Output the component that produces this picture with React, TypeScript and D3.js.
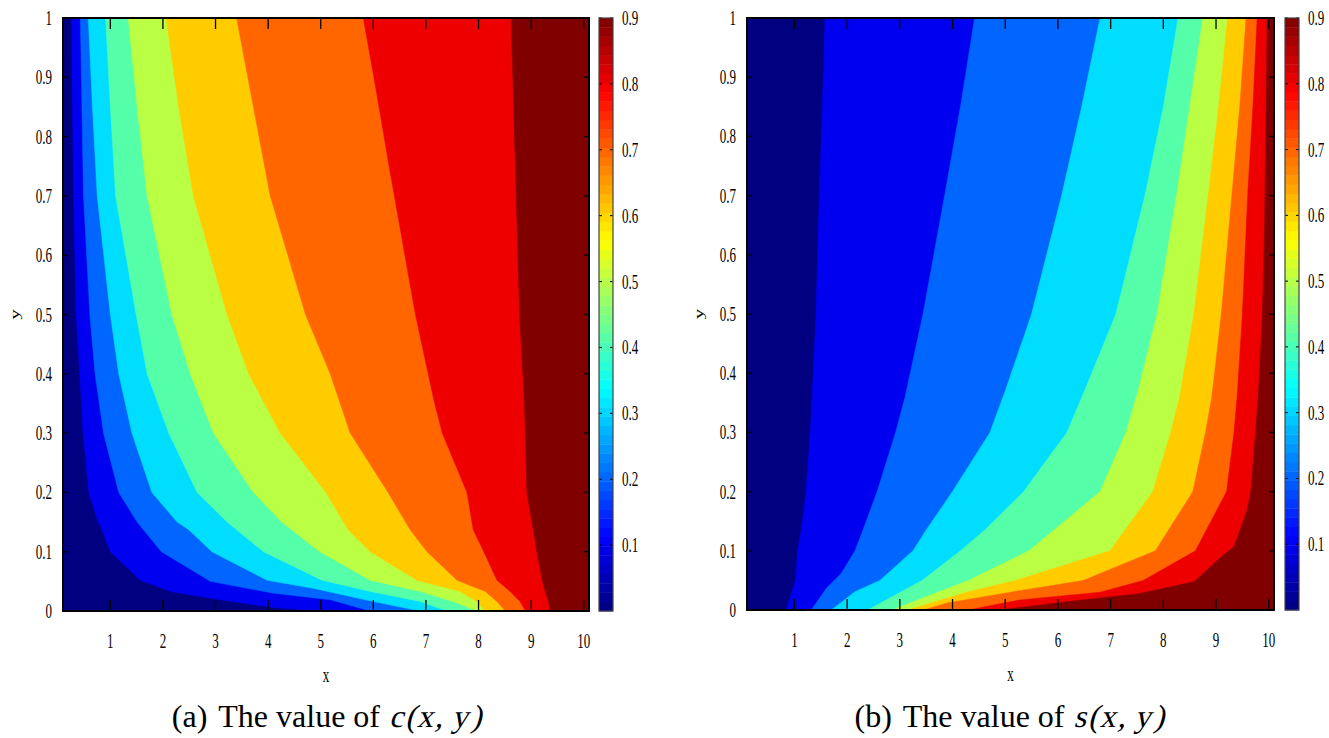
import React from "react";
import * as d3 from "d3";

// ---------- data ----------
// Contour boundaries of c(x,y): [x, y] points, top (y=1) to bottom (y=0)
const cLevel1 = [[0.26,1],[0.28,0.85],[0.30,0.7],[0.35,0.5],[0.42,0.4],[0.48,0.3],[0.59,0.2],[0.77,0.15],[0.84,0.137],[1.0,0.1],[1.57,0.052],[2.14,0.033],[3.09,0.019],[4.1,0.006],[5.0,0]];
const cLevel2 = [[0.43,1],[0.46,0.85],[0.49,0.7],[0.61,0.5],[0.71,0.4],[0.87,0.3],[1.16,0.2],[1.51,0.15],[1.97,0.1],[2.9,0.05],[4.1,0.03],[5.18,0.019],[5.94,0]];
const cLevel3 = [[0.58,1],[0.66,0.85],[0.75,0.7],[1.0,0.5],[1.16,0.4],[1.41,0.3],[1.79,0.2],[2.27,0.15],[2.49,0.137],[2.93,0.1],[3.98,0.052],[4.87,0.038],[6.0,0.016],[6.89,0]];
const cLevel4 = [[0.91,1],[1.0,0.85],[1.1,0.7],[1.49,0.5],[1.7,0.4],[2.11,0.3],[2.65,0.2],[3.22,0.15],[3.91,0.1],[5.02,0.052],[5.94,0.033],[6.89,0.016],[7.4,0]];
const cLevel5 = [[1.34,1],[1.51,0.85],[1.7,0.7],[2.17,0.5],[2.52,0.4],[2.96,0.3],[3.72,0.2],[4.26,0.15],[4.98,0.1],[5.94,0.052],[6.89,0.033],[7.52,0.016],[7.97,0]];
const cLevel6 = [[2.06,1],[2.3,0.85],[2.58,0.7],[3.22,0.5],[3.63,0.4],[4.23,0.3],[5.1,0.2],[5.52,0.137],[5.94,0.1],[6.83,0.052],[7.65,0.033],[7.97,0.016],[8.13,0]];
const cLevel7 = [[3.4,1],[3.72,0.85],[4.04,0.7],[4.71,0.5],[5.18,0.4],[5.56,0.3],[6.28,0.2],[6.7,0.137],[7.02,0.1],[7.59,0.052],[8.13,0.033],[8.35,0.016],[8.51,0]];
const cLevel8 = [[5.81,1],[6.05,0.88],[6.3,0.75],[6.8,0.5],[7.15,0.356],[7.31,0.3],[7.78,0.2],[7.9,0.137],[8.1,0.1],[8.35,0.052],[8.6,0.033],[8.79,0.016],[8.89,0]];
const cLevel9 = [[8.62,1],[8.7,0.75],[8.78,0.5],[8.87,0.356],[8.89,0.3],[8.92,0.2],[9.04,0.137],[9.11,0.1],[9.21,0.052],[9.27,0.033],[9.33,0.016],[9.36,0]];

// Contour boundaries of s(x,y)
const sLevel1 = [[1.58,1],[1.53,0.85],[1.47,0.7],[1.41,0.5],[1.33,0.35],[1.3,0.3],[1.22,0.2],[1.13,0.135],[1.06,0.1],[1.02,0.05],[0.84,0]];
const sLevel2 = [[4.42,1],[4.15,0.85],[3.85,0.7],[3.44,0.5],[3.1,0.36],[2.92,0.3],[2.57,0.2],[2.3,0.135],[2.15,0.1],[1.89,0.062],[1.61,0.037],[1.32,0]];
const sLevel3 = [[6.8,1],[6.45,0.85],[6.07,0.7],[5.5,0.5],[5.0,0.37],[4.71,0.3],[4.0,0.2],[3.5,0.135],[3.25,0.1],[2.62,0.05],[2.15,0.031],[1.7,0]];
const sLevel4 = [[8.28,1],[8.0,0.85],[7.65,0.7],[7.1,0.5],[6.55,0.38],[6.17,0.3],[5.35,0.2],[4.61,0.135],[4.15,0.1],[3.42,0.05],[2.39,0]];
const sLevel5 = [[8.75,1],[8.5,0.85],[8.25,0.7],[7.88,0.5],[7.52,0.37],[7.29,0.3],[6.8,0.2],[5.45,0.1],[4.3,0.05],[2.85,0]];
const sLevel6 = [[9.22,1],[9.05,0.85],[8.85,0.7],[8.58,0.5],[8.31,0.36],[8.14,0.3],[7.8,0.2],[6.99,0.1],[5.2,0.05],[4.26,0.03],[3.15,0]];
const sLevel7 = [[9.57,1],[9.45,0.85],[9.3,0.7],[9.1,0.5],[8.92,0.36],[8.8,0.3],[8.56,0.2],[7.85,0.1],[6.48,0.05],[5.3,0.033],[3.9,0.012],[3.45,0]];
const sLevel8 = [[9.78,1],[9.7,0.85],[9.6,0.7],[9.5,0.5],[9.4,0.36],[9.34,0.3],[9.2,0.2],[8.61,0.1],[7.62,0.05],[6.8,0.03],[5.28,0.017],[4.3,0]];
const sLevel9 = [[9.97,1],[9.95,0.85],[9.92,0.64],[9.88,0.5],[9.8,0.36],[9.75,0.3],[9.66,0.2],[9.59,0.169],[9.34,0.107],[9.1,0.09],[8.59,0.048],[7.56,0.028],[6.17,0.014],[4.9,0]];

const cLevels = [cLevel1, cLevel2, cLevel3, cLevel4, cLevel5, cLevel6, cLevel7, cLevel8, cLevel9];
const sLevels = [sLevel1, sLevel2, sLevel3, sLevel4, sLevel5, sLevel6, sLevel7, sLevel8, sLevel9];

const xTicks = [1, 2, 3, 4, 5, 6, 7, 8, 9, 10];
const yTicks = [0, 0.1, 0.2, 0.3, 0.4, 0.5, 0.6, 0.7, 0.8, 0.9, 1];
const yTickLabels = ["0", "0.1", "0.2", "0.3", "0.4", "0.5", "0.6", "0.7", "0.8", "0.9", "1"];
const cbTicks = [0.1, 0.2, 0.3, 0.4, 0.5, 0.6, 0.7, 0.8, 0.9];
const xDomain = [0.1, 10.1];
const yDomain = [0, 1];
const cbDomain = [0, 0.9];

// ---------- styles ----------
const bandColors = ["#000080", "#0000f0", "#0066ff", "#00ddff", "#55ffaa", "#bbff44", "#ffcc00", "#ff6600", "#ee0000", "#800000"];
const FONT = "'Liberation Serif', 'Times New Roman', serif";
const SQ = 0.62;

function jet(t: number) {
  const c = (v: number) => Math.max(0, Math.min(1, v));
  const r = c(1.5 - Math.abs(4 * t - 3));
  const g = c(1.5 - Math.abs(4 * t - 2));
  const b = c(1.5 - Math.abs(4 * t - 1));
  return d3.rgb(r * 255, g * 255, b * 255).formatHex();
}

type PanelProps = {
  left: number; right: number; top: number; bottom: number; cbX: number;
  levels: number[][][]; id: string; letter: string; fn: string;
};

function Label({ x, y, anchor, children }: any) {
  return (
    <text transform={`translate(${x},${y}) scale(${SQ},1)`} textAnchor={anchor} fontFamily={FONT} fontSize={21} fill="#000">
      {children}
    </text>
  );
}

function Panel({ left, right, top, bottom, cbX, levels, id, letter, fn }: PanelProps) {
  const x = d3.scaleLinear().domain(xDomain).range([left, right]);
  const y = d3.scaleLinear().domain(yDomain).range([bottom, top]);
  const line = d3.line<number[]>().x((d) => x(d[0])).y((d) => y(d[1]));
  const cbW = 14;
  const cb = d3.scaleLinear().domain(cbDomain).range([bottom, top]);
  const nSteps = 64;
  const steps = d3.range(nSteps);
  const stepH = (bottom - top) / nSteps;
  const cx = (left + right) / 2;
  const xEnd = x(xDomain[1]) + 5;
  const split = cx + 58;
  return (
    <g>
      <defs>
        <clipPath id={`clip-${id}`}>
          <rect x={left} y={top} width={right - left} height={bottom - top} />
        </clipPath>
      </defs>
      <g clipPath={`url(#clip-${id})`}>
        <rect x={left} y={top} width={right - left} height={bottom - top} fill={bandColors[0]} />
        {levels.map((pts, i) => {
          const d = (line(pts as any) || "") + `L${x(pts[pts.length - 1][0])},${y(0) + 5}L${xEnd},${y(0) + 5}L${xEnd},${y(1) - 5}L${x(pts[0][0])},${y(1) - 5}Z`;
          return <path key={i} d={d} fill={bandColors[i + 1]} stroke={bandColors[i + 1]} strokeWidth={0.5} />;
        })}
      </g>
      {/* ticks */}
      {xTicks.map((t) => (
        <g key={`xt${t}`} stroke="#000" strokeWidth={1.3}>
          <line x1={x(t)} x2={x(t)} y1={bottom} y2={bottom - 11} />
          <line x1={x(t)} x2={x(t)} y1={top} y2={top + 11} />
        </g>
      ))}
      {yTicks.map((t) => (
        <g key={`yt${t}`} stroke="#000" strokeWidth={1.3}>
          <line x1={left} x2={left + 5} y1={y(t)} y2={y(t)} />
          <line x1={right} x2={right - 5} y1={y(t)} y2={y(t)} />
        </g>
      ))}
      <rect x={left} y={top} width={right - left} height={bottom - top} fill="none" stroke="#000" strokeWidth={2} />
      {/* tick labels */}
      {xTicks.map((t) => (
        <Label key={`xl${t}`} x={x(t)} y={bottom + 37} anchor="middle">{String(t)}</Label>
      ))}
      {yTicks.map((t, i) => (
        <Label key={`yl${t}`} x={left - 11} y={y(t) + 7} anchor="end">{yTickLabels[i]}</Label>
      ))}
      <Label x={cx} y={bottom + 71} anchor="middle">x</Label>
      <text transform={`translate(${left - 44},${(top + bottom) / 2}) scale(${SQ},1) rotate(-90)`} textAnchor="middle" fontFamily={FONT} fontSize={21}>y</text>
      {/* colorbar */}
      {steps.map((i) => (
        <rect key={`cb${i}`} x={cbX} y={bottom - (i + 1) * stepH} width={cbW} height={stepH + 0.4} fill={jet((i + 0.5) / nSteps)} />
      ))}
      {cbTicks.map((t) => (
        <g key={`cbt${t}`} stroke="#000" strokeWidth={1}>
          <line x1={cbX} x2={cbX + 3} y1={cb(t)} y2={cb(t)} />
          <line x1={cbX + cbW} x2={cbX + cbW - 3} y1={cb(t)} y2={cb(t)} />
        </g>
      ))}
      <rect x={cbX} y={top} width={cbW} height={bottom - top} fill="none" stroke="#444" strokeWidth={1.2} />
      {cbTicks.map((t) => (
        <Label key={`cbl${t}`} x={cbX + cbW + 9} y={cb(t) + 7} anchor="start">{String(t)}</Label>
      ))}
      {/* caption */}
      <text x={split - 4} y={727} textAnchor="end" fontFamily={FONT} fontSize={32} fill="#000">
        <tspan>({letter})</tspan>
        <tspan dx={11}>The value of</tspan>
      </text>
      <text transform={`translate(${split + 5},727)`} fontFamily={FONT} fontSize={32} fill="#000">
        <tspan transform="skewX(-14)">{""}</tspan>
      </text>
      <g transform={`translate(${split + 5},727) skewX(-14)`}>
        <text x={0} y={0} fontFamily={FONT} fontSize={32} fill="#000">
          <tspan>{fn}</tspan>
          <tspan dx={2}>(</tspan>
          <tspan dx={1}>x</tspan>
          <tspan dx={2}>,</tspan>
          <tspan dx={9}>y</tspan>
          <tspan dx={3}>)</tspan>
        </text>
      </g>
    </g>
  );
}

export default function App() {
  return (
    <svg width={1329} height={738} style={{ position: "absolute", left: 0, top: 0, background: "#fff" }}>
      <rect width={1329} height={738} fill="#fff" />
      <Panel left={63} right={589} top={18} bottom={611} cbX={599} levels={cLevels} id="c" letter="a" fn="c" />
      <Panel left={747} right={1274} top={18} bottom={610} cbX={1285} levels={sLevels} id="s" letter="b" fn="s" />
    </svg>
  );
}
